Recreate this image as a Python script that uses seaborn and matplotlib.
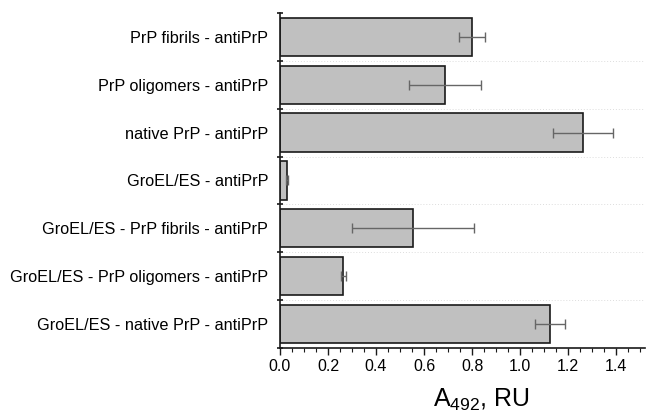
import matplotlib
matplotlib.use("Agg")
import matplotlib.pyplot as plt
from matplotlib.ticker import MultipleLocator, FixedLocator
import seaborn as sns
import pandas as pd
import numpy as np

# ------------------------------
# data
# ------------------------------
labels = [
    "PrP fibrils - antiPrP",
    "PrP oligomers - antiPrP",
    "native PrP - antiPrP",
    "GroEL/ES - antiPrP",
    "GroEL/ES - PrP fibrils - antiPrP",
    "GroEL/ES - PrP oligomers - antiPrP",
    "GroEL/ES - native PrP - antiPrP",
]
values = [0.80, 0.687, 1.262, 0.030, 0.553, 0.263, 1.126]
errors = [0.055, 0.150, 0.125, 0.004, 0.253, 0.010, 0.062]

df = pd.DataFrame({"label": labels, "value": values, "err": errors})

sns.set_style("white")
plt.rcParams["font.family"] = ["Liberation Sans", "DejaVu Sans"]
plt.rcParams["mathtext.default"] = "regular"
plt.rcParams["text.color"] = "black"
plt.rcParams["xtick.color"] = "black"
plt.rcParams["ytick.color"] = "black"
plt.rcParams["axes.labelcolor"] = "black"

fig = plt.figure(figsize=(6.46, 4.19), dpi=100)
ax = fig.add_axes([0.4334, 0.1695, 0.5650, 0.7995])

sns.barplot(data=df, x="value", y="label", orient="h", color="#c0c0c0",
            edgecolor="#1a1a1a", linewidth=1.2, width=0.8, saturation=1,
            errorbar=None, ax=ax)

# error bars on top of the bars
ypos = np.arange(len(labels))
ax.errorbar(df["value"], ypos, xerr=df["err"], fmt="none", ecolor="#666666",
            elinewidth=1.0, capsize=3.5, capthick=1.0, zorder=5)

ax.set_xlim(0, 1.52)
ax.set_ylim(len(labels) - 0.5, -0.5)

# grid between categories (dotted, very faint)
bounds = np.arange(len(labels) + 1) - 0.5
for b in bounds[1:-1]:
    ax.axhline(b, color="#dddddd", lw=0.7, ls=(0, (1, 2)), zorder=0)

ax.xaxis.set_major_locator(MultipleLocator(0.2))
ax.xaxis.set_minor_locator(MultipleLocator(0.05))
ax.set_xticklabels([f"{v:.1f}" for v in ax.get_xticks()])
ax.set_xlim(0, 1.52)

ax.yaxis.set_minor_locator(FixedLocator(bounds))
ax.tick_params(which="both", bottom=True, left=True)
ax.tick_params(axis="y", which="major", length=0, labelsize=11.7, pad=8.5)
ax.tick_params(axis="y", which="minor", length=5, width=1.2, direction="inout",
               color="#1a1a1a")
ax.tick_params(axis="x", which="major", length=5, width=1.0, direction="out",
               labelsize=11.5, color="#1a1a1a", pad=3)
ax.tick_params(axis="x", which="minor", length=3, width=0.8, direction="out",
               color="#1a1a1a")

for s in ["top", "right"]:
    ax.spines[s].set_visible(False)
for s in ["left", "bottom"]:
    ax.spines[s].set_color("#1a1a1a")
    ax.spines[s].set_linewidth(1.2)

ax.set_ylabel("")
ax.set_xlabel("A$_{492}$, RU", fontsize=18)
ax.xaxis.set_label_coords((481 - 280) / 365, -0.115)

fig.savefig("out.png", dpi=100)
